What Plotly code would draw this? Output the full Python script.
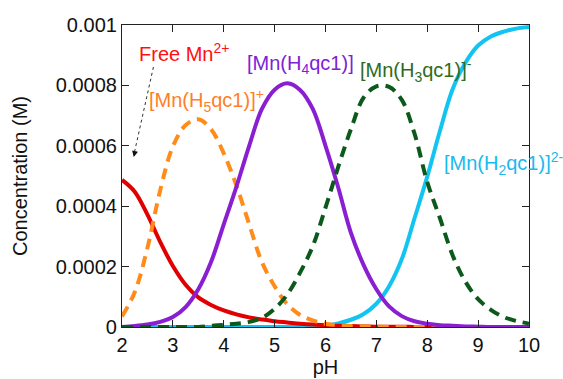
import plotly.graph_objects as go

pH = [2.0, 2.25, 2.5, 2.75, 3.0, 3.25, 3.5, 3.75, 4.0, 4.25, 4.5, 4.75, 5.0, 5.25, 5.5, 5.75,
      6.0, 6.25, 6.5, 6.75, 7.0, 7.25, 7.5, 7.75, 8.0, 8.25, 8.5, 8.75, 9.0, 9.25, 9.5, 9.75, 10.0]

free_mn = [0.000487, 0.000448, 0.000372, 0.000282, 0.000202, 0.000140, 0.000098, 0.000073,
           0.000055, 0.000042, 0.000032, 0.000025, 0.000019, 0.000015, 0.000011, 0.000008,
           0.000006, 0.000004, 0.000003, 0.000002, 0.000001, 0.000001, 0.000001, 0.0, 0.0,
           0.0, 0.0, 0.0, 0.0, 0.0, 0.0, 0.0, 0.0]

mn_h5 = [0.000035, 0.000115, 0.000262, 0.000452, 0.000598, 0.000668, 0.000688, 0.000655,
         0.000575, 0.000468, 0.000340, 0.000215, 0.000135, 0.000075, 0.000040, 0.000022,
         0.000011, 0.000006, 0.000003, 0.000002, 0.000001, 0.0, 0.0, 0.0, 0.0, 0.0, 0.0,
         0.0, 0.0, 0.0, 0.0, 0.0, 0.0]

mn_h4 = [0.0, 0.000003, 0.000008, 0.000017, 0.000033, 0.000066, 0.000125, 0.000215,
         0.000340, 0.000465, 0.000600, 0.000722, 0.000786, 0.000807, 0.000785, 0.000722,
         0.000600, 0.000462, 0.000312, 0.000205, 0.000125, 0.000068, 0.000036, 0.000019,
         0.000011, 0.000006, 0.000004, 0.000002, 0.000001, 0.0, 0.0, 0.0, 0.0]

mn_h3 = [0.0, 0.0, 0.0, 0.0, 0.0, 0.0, 0.0, 0.000004, 0.000007, 0.000011, 0.000017, 0.000030,
         0.000060, 0.000108, 0.000180, 0.000268, 0.000395, 0.000530, 0.000655, 0.000760,
         0.000797, 0.000795, 0.000752, 0.000640, 0.000480, 0.000360, 0.000237, 0.000150,
         0.000092, 0.000057, 0.000033, 0.000020, 0.000011]

mn_h2 = [0.0, 0.0, 0.0, 0.0, 0.0, 0.0, 0.0, 0.0, 0.0, 0.0, 0.0, 0.0, 0.0, 0.0, 0.0, 0.000002,
         0.000005, 0.000012, 0.000024, 0.000043, 0.000077, 0.000135, 0.000225, 0.000360,
         0.000498, 0.000650, 0.000788, 0.000875, 0.000932, 0.000962, 0.000978, 0.000988,
         0.000993]

x_ticks = [2, 3, 4, 5, 6, 7, 8, 9, 10]
y_ticks = [0, 0.0002, 0.0004, 0.0006, 0.0008, 0.001]
y_tick_text = ["0", "0.0002", "0.0004", "0.0006", "0.0008", "0.001"]

FONT = "Liberation Sans, Arial, sans-serif"
FS = 20

C_RED = "#e00000"
C_ORANGE = "#ff8c1a"
C_PURPLE = "#8a1fd2"
C_GREEN = "#0b5a1c"
C_CYAN = "#12c4f2"

fig = go.Figure()

series = [
    (mn_h2, C_CYAN, "solid"),
    (free_mn, C_RED, "solid"),
    (mn_h5, C_ORANGE, "11px,7px"),
    (mn_h4, C_PURPLE, "solid"),
    (mn_h3, C_GREEN, "11px,7px"),
]
for ys, col, dash in series:
    fig.add_trace(go.Scatter(
        x=pH, y=ys, mode="lines",
        line=dict(color=col, width=4, dash=dash, shape="spline", smoothing=1.0),
        cliponaxis=False, hoverinfo="skip",
    ))

labels = [
    ("Free Mn<sup>2+</sup>", 3.22, 0.00091, "#ff1010"),
    ("[Mn(H<sub>5</sub>qc1)]<sup>+</sup>", 3.66, 0.00075, "#ff7f27"),
    ("[Mn(H<sub>4</sub>qc1)]", 5.5, 0.00087, "#7e22d6"),
    ("[Mn(H<sub>3</sub>qc1)]<sup>-</sup>", 7.78, 0.00085, "#2f6b1e"),
    ("[Mn(H<sub>2</sub>qc1)]<sup>2-</sup>", 9.5, 0.00054, "#1ab9ee"),
]
for txt, lx, ly, col in labels:
    fig.add_annotation(x=lx, y=ly, xref="x", yref="y", text=txt, showarrow=False,
                       font=dict(family=FONT, size=FS, color=col),
                       xanchor="center", yanchor="middle")

# dotted pointer from label to the free Mn curve
fig.add_shape(type="line", xref="x", yref="y", x0=2.618, y0=0.000861, x1=2.24, y1=0.000575,
              line=dict(color="#333333", width=1, dash="dot"))
fig.add_annotation(x=2.231, y=0.000563, xref="x", yref="y", ax=2.26, ay=0.000585,
                   axref="x", ayref="y", text="", showarrow=True, arrowhead=2,
                   arrowsize=1.2, arrowwidth=1, arrowcolor="#111111", standoff=0)

axis_common = dict(
    showline=True, linecolor="#222222", linewidth=1.2, mirror="ticks",
    ticks="inside", ticklen=7, tickwidth=1.2, tickcolor="#222222",
    showgrid=False, zeroline=False, automargin=False,
    tickfont=dict(family=FONT, size=FS, color="#111111"),
)

fig.update_layout(
    width=563, height=379,
    margin=dict(l=122, r=34, t=25, b=52, autoexpand=False),
    paper_bgcolor="white", plot_bgcolor="white",
    showlegend=False,
    xaxis=dict(range=[2, 10], tickvals=x_ticks, ticktext=[str(v) for v in x_ticks],
               title=dict(text="pH", font=dict(family=FONT, size=FS, color="#111111"), standoff=0),
               **axis_common),
    yaxis=dict(range=[0, 0.001], tickvals=y_ticks, ticktext=y_tick_text,
               title=dict(text="Concentration (M)", font=dict(family=FONT, size=FS, color="#111111"), standoff=22),
               **axis_common),
)

fig.write_html("out.html")
